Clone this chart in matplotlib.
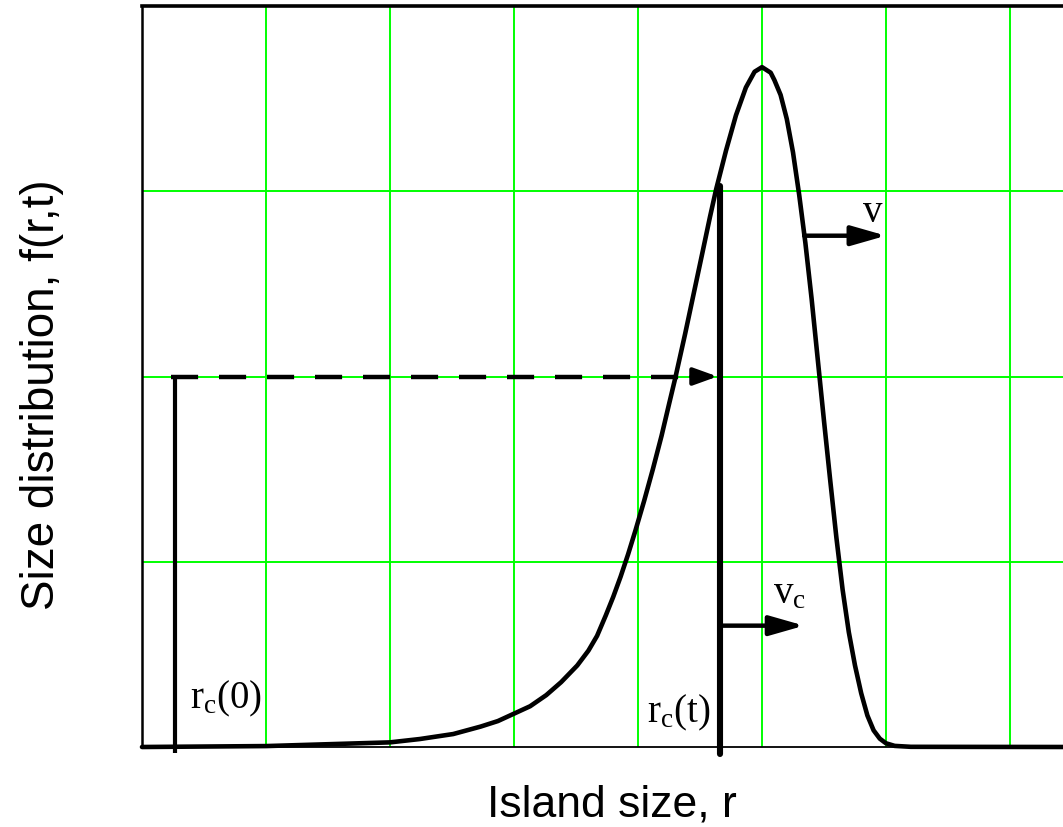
import matplotlib.pyplot as plt

plt.rcParams['mathtext.fontset'] = 'custom'
plt.rcParams['mathtext.rm'] = 'Liberation Serif'
plt.rcParams['mathtext.it'] = 'Liberation Serif:italic'

# island size distribution f(r, t)
r_vals = [0.0, 1.0, 2.0, 2.24, 2.51, 2.73, 2.87, 3.0, 3.13, 3.26, 3.38, 3.51,
          3.60, 3.67, 3.74, 3.80, 3.86, 3.92, 3.98, 4.05, 4.12, 4.19, 4.25,
          4.30, 4.38, 4.45, 4.52, 4.58, 4.63, 4.71, 4.79, 4.87, 4.94, 5.0,
          5.07, 5.10, 5.15, 5.20, 5.25, 5.30, 5.35, 5.40, 5.45, 5.50, 5.55,
          5.60, 5.65, 5.70, 5.75, 5.80, 5.85, 5.90, 5.95, 6.0, 6.07, 6.2, 7.5]
f_vals = [0.0, 0.005, 0.025, 0.043, 0.07, 0.11, 0.14, 0.18, 0.22, 0.28, 0.35,
          0.44, 0.52, 0.60, 0.71, 0.81, 0.92, 1.04, 1.17, 1.33, 1.50, 1.68,
          1.85, 1.99, 2.23, 2.45, 2.67, 2.86, 3.01, 3.22, 3.41, 3.56, 3.645,
          3.67, 3.64, 3.60, 3.52, 3.39, 3.21, 2.98, 2.72, 2.42, 2.09, 1.76,
          1.44, 1.13, 0.85, 0.62, 0.44, 0.29, 0.17, 0.09, 0.045, 0.02, 0.006,
          0.001, 0.0]

# critical radius at t=0 and at t, level carried between them
rc0 = 0.266
rct = 4.661
rc_level = 2.0
rct_top = 3.03

# growth velocity arrows: (start x, end x, y)
v_arrow = (5.34, 6.0, 2.76)
vc_arrow = (rct, 5.34, 0.655)

fig = plt.figure(figsize=(10.63, 8.28), dpi=100)
ax = fig.add_axes([142 / 1063, 80 / 828, 1 - 142 / 1063, 741 / 828])
ax.set_xlim(0, 921 / 124)
ax.set_ylim(0, 4)

ax.set_xticks(range(1, 8))
ax.set_yticks(range(1, 4))
ax.grid(True, color='#00ff00', linewidth=1.4)
ax.tick_params(length=0, labelbottom=False, labelleft=False)
ax.set_axisbelow(True)

ax.spines['right'].set_visible(False)
ax.spines['top'].set_linewidth(2.6)
ax.spines['left'].set_linewidth(1.8)
ax.spines['bottom'].set_linewidth(1.3)

ax.plot(r_vals, f_vals, color='k', linewidth=3.3, solid_joinstyle='round',
        solid_capstyle='round', clip_on=False, zorder=5)

# r_c(0) marker and dashed shift to r_c(t)
ax.plot([rc0, rc0], [-0.03, rc_level], color='k', linewidth=3.0,
        solid_capstyle='butt', clip_on=False, zorder=6)
head = 0.17
ax.plot([rc0 - 0.03, rct - head - 0.05], [rc_level, rc_level], color='k',
        linewidth=3.2, linestyle=(0, (6.1, 4.7)), dash_capstyle='butt', zorder=6)
ax.annotate('', xy=(rct - 0.02, rc_level), xytext=(rct - head - 0.06, rc_level),
            arrowprops=dict(arrowstyle='-|>,head_length=0.72,head_width=0.26',
                            mutation_scale=20, color='k', lw=3.0,
                            shrinkA=0, shrinkB=0), zorder=6)

ax.plot([rct, rct], [-0.04, rct_top], color='k', linewidth=4.4,
        solid_capstyle='round', clip_on=False, zorder=6)

for x0, x1, y in (v_arrow, vc_arrow):
    ax.annotate('', xy=(x1, y), xytext=(x0, y),
                arrowprops=dict(arrowstyle='-|>,head_length=1.05,head_width=0.3',
                                mutation_scale=20, color='k', lw=3.2,
                                shrinkA=0, shrinkB=0), zorder=6)

serif = dict(fontsize=28, color='k', va='baseline', ha='left', zorder=7)
ax.text(0.387, 0.216, r'$\mathrm{r_c(0)}$', **serif)
ax.text(4.073, 0.14, r'$\mathrm{r_c(t)}$', **serif)
ax.text(5.806, 2.84, r'$\mathrm{v}$', **serif)
ax.text(5.089, 0.783, r'$\mathrm{v_c}$', **serif)

fig.text(612 / 1063, 1 - 805 / 828, 'Island size, r', family='Liberation Sans',
         fontsize=32, ha='center', va='center')
fig.text(42 / 1063, 1 - 395 / 828, 'Size distribution, f(r,t)',
         family='Liberation Sans', fontsize=33, ha='center', va='center',
         rotation=90)

fig.savefig('out.png', dpi=100)
